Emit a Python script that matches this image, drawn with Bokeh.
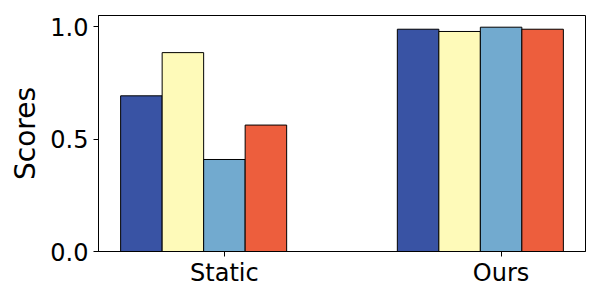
from bokeh.plotting import figure
from bokeh.models import Range1d, FixedTicker, ColumnDataSource
from bokeh.embed import file_html
from bokeh.resources import INLINE

groups = ["Static", "Ours"]
series_colors = ["#3953a4", "#fefab9", "#72aacf", "#ed5e3d"]
series_values = [
    [0.692, 0.988],
    [0.884, 0.978],
    [0.409, 0.997],
    [0.562, 0.988],
]
y_ticks = [0.0, 0.5, 1.0]
bar_width = 0.15

p = figure(width=600, height=300, output_backend="svg", toolbar_location=None,
           x_range=Range1d(-0.455, 1.305), y_range=Range1d(0, 1.049),
           min_border_left=98, min_border_right=15, min_border_top=15, min_border_bottom=49)

for i, (vals, col) in enumerate(zip(series_values, series_colors)):
    xs = [g + (i - 2) * bar_width for g in range(len(groups))]
    src = ColumnDataSource(dict(x=xs, top=vals))
    p.vbar(x="x", top="top", width=bar_width, source=src, fill_color=col,
           line_color="black", line_width=1)

p.xgrid.visible = False
p.ygrid.visible = False
p.outline_line_color = "black"
p.outline_line_width = 1

p.xaxis.ticker = FixedTicker(ticks=list(range(len(groups))))
p.xaxis.major_label_overrides = {i: g for i, g in enumerate(groups)}
p.yaxis.ticker = FixedTicker(ticks=y_ticks)
p.yaxis.major_label_overrides = {t: f"{t:.1f}" for t in y_ticks}
p.yaxis.axis_label = "Scores"

for ax in (p.xaxis[0], p.yaxis[0]):
    ax.axis_line_color = "black"
    ax.major_tick_line_color = "black"
    ax.minor_tick_line_color = None
    ax.major_tick_in = 0
    ax.major_tick_out = 5
    ax.major_label_text_font = "DejaVu Sans"
    ax.major_label_text_font_size = "24px"
    ax.major_label_text_color = "black"
    ax.major_label_standoff = 5
    ax.axis_label_text_font = "DejaVu Sans"
    ax.axis_label_text_font_size = "28px"
    ax.axis_label_text_font_style = "normal"
    ax.axis_label_text_color = "black"
p.xaxis.major_label_standoff = 2
p.yaxis.axis_label_standoff = 5

open("out.html", "w").write(file_html(p, INLINE))
